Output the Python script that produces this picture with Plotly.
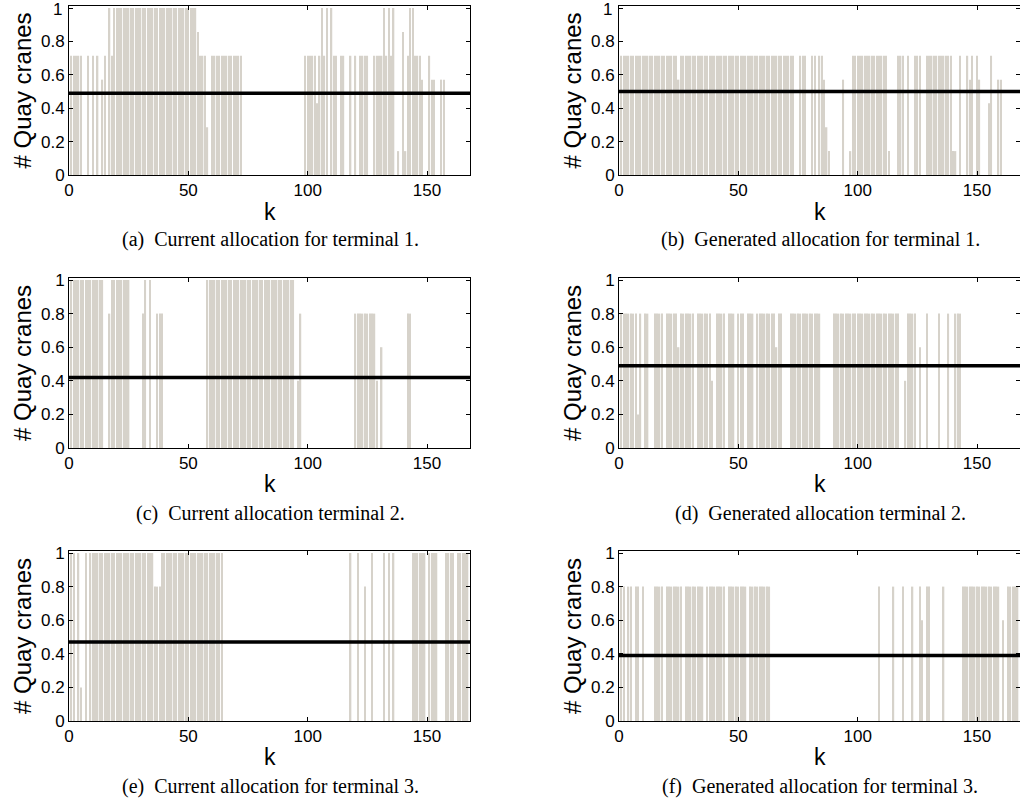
import plotly.graph_objects as go
from plotly.subplots import make_subplots

# ---------------- data (k = 1..168) ----------------
k_max = 168
x_ticks = [0, 50, 100, 150]
y_ticks = [0, 0.2, 0.4, 0.6, 0.8, 1.0]
y_tick_text = ["0", "0.2", "0.4", "0.6", "0.8", "1"]

# (a) current allocation terminal 1
current_t1 = [
    0.714, 0.714, 0.714, 0.714, 0.714, 0, 0, 0.714, 0, 0.714, 0, 0.714, 0, 0.571,
    0.714, 0, 1, 0.714, 1, 1, 1, 1, 1, 1, 1, 1, 1, 1,
    1, 1, 1, 1, 1, 1, 1, 1, 1, 1, 1, 1, 1, 1,
    1, 1, 1, 1, 1, 1, 1, 1, 1, 1, 1, 0.857, 0.714, 0.714,
    0.714, 0.286, 0, 0.714, 0.714, 0.714, 0.714, 0.714, 0.714, 0.714, 0.714, 0.714, 0.714, 0.714,
    0.714, 0.714, 0, 0, 0, 0, 0, 0, 0, 0, 0, 0, 0, 0,
    0, 0, 0, 0, 0, 0, 0, 0, 0, 0, 0, 0, 0, 0,
    0.714, 0.714, 0.714, 0.714, 0.714, 0.429, 0.714, 1, 0.714, 1, 0, 1, 0.714, 0.714,
    0, 0.714, 0.714, 0, 0, 0.714, 0, 0.714, 0, 0.714, 0.714, 0.714, 0.714, 0,
    0, 0.714, 0.714, 0.714, 0.714, 1, 0.714, 1, 0.714, 1, 0, 0.143, 0, 0.857,
    0.143, 0.714, 1, 1, 0.714, 0.714, 0.714, 0.571, 0, 0, 0.714, 0.571, 0.571, 0,
    0, 0.571, 0.571, 0, 0, 0, 0, 0, 0, 0, 0, 0, 0, 0,
]

# (b) generated allocation terminal 1
generated_t1 = [
    0.714, 0.714, 0.714, 0.714, 0.714, 0.714, 0.714, 0.714, 0.714, 0.714, 0.714, 0.714, 0.714, 0.714,
    0.714, 0.714, 0.714, 0.714, 0.714, 0.714, 0.714, 0.714, 0.714, 0.714, 0.571, 0.714, 0.714, 0.714,
    0.714, 0.714, 0.714, 0.714, 0.714, 0.714, 0.714, 0.714, 0.714, 0.714, 0.714, 0.714, 0.714, 0.714,
    0.714, 0.714, 0.714, 0.714, 0.714, 0.714, 0.714, 0.714, 0.714, 0.714, 0.714, 0.714, 0.714, 0.714,
    0.714, 0.714, 0.714, 0.714, 0.714, 0.714, 0.714, 0.714, 0.714, 0.714, 0.714, 0.714, 0.714, 0.714,
    0.714, 0.714, 0.714, 0, 0, 0.714, 0.714, 0.714, 0, 0, 0.714, 0.714, 0, 0.714,
    0.714, 0.571, 0.286, 0.143, 0, 0, 0, 0, 0, 0.571, 0, 0, 0.143, 0.714,
    0.714, 0.714, 0.714, 0.714, 0.714, 0.714, 0.714, 0.714, 0.714, 0.714, 0.714, 0.714, 0.714, 0.714,
    0.143, 0, 0, 0, 0.714, 0.714, 0.714, 0, 0.714, 0, 0, 0.714, 0.714, 0.714,
    0, 0, 0.714, 0.714, 0.714, 0.714, 0.714, 0.714, 0.714, 0.714, 0.714, 0.714, 0.714, 0.143,
    0.143, 0, 0.714, 0, 0, 0.714, 0.571, 0.714, 0, 0.714, 0.571, 0, 0, 0,
    0.429, 0.714, 0, 0, 0.571, 0.571, 0, 0, 0, 0, 0, 0, 0, 0,
]

# (c) current allocation terminal 2
current_t2 = [
    1, 1, 1, 1, 1, 1, 1, 1, 1, 1, 1, 1, 1, 1,
    0, 0, 0.8, 1, 1, 1, 1, 1, 1, 1, 1, 0, 0, 0,
    0, 0, 0.8, 1, 0, 1, 0, 0, 0.8, 0.8, 0.8, 0, 0, 0,
    0, 0, 0, 0, 0, 0, 0, 0, 0, 0, 0, 0, 0, 0,
    0, 1, 1, 1, 1, 1, 1, 1, 1, 1, 1, 1, 1, 1,
    1, 1, 1, 1, 1, 1, 1, 1, 1, 1, 1, 1, 1, 1,
    1, 1, 1, 1, 1, 1, 1, 1, 1, 1, 0, 0.4, 0.8, 0,
    0, 0, 0, 0, 0, 0, 0, 0, 0, 0, 0, 0, 0, 0,
    0, 0, 0, 0, 0, 0, 0, 0.8, 0.8, 0.8, 0.8, 0.8, 0.8, 0.8,
    0.8, 0.8, 0.4, 0, 0.6, 0, 0, 0, 0, 0, 0, 0, 0, 0,
    0, 0.8, 0.8, 0, 0, 0, 0, 0, 0, 0, 0, 0, 0, 0,
    0, 0, 0, 0, 0, 0, 0, 0, 0, 0, 0, 0, 0, 0,
]

# (d) generated allocation terminal 2
generated_t2 = [
    0.8, 0.8, 0.8, 0.8, 0.8, 0.8, 0.8, 0.2, 0.8, 0, 0.8, 0.8, 0, 0,
    0.8, 0.8, 0.8, 0.8, 0, 0.8, 0.8, 0.8, 0.8, 0.8, 0.6, 0.8, 0.8, 0.8,
    0.8, 0.8, 0.8, 0, 0.8, 0.8, 0.8, 0.8, 0.8, 0.8, 0.4, 0, 0.8, 0.8,
    0.8, 0.8, 0, 0.8, 0.8, 0.8, 0, 0.8, 0.8, 0.8, 0, 0.8, 0.8, 0.8,
    0, 0.8, 0.8, 0.8, 0.8, 0.8, 0.8, 0.8, 0.8, 0.6, 0.8, 0.8, 0, 0,
    0, 0.8, 0.8, 0.8, 0.8, 0.8, 0.8, 0.8, 0.8, 0.8, 0.8, 0.8, 0.8, 0.8,
    0, 0, 0, 0, 0, 0.8, 0.8, 0.8, 0.8, 0.8, 0.8, 0.8, 0.8, 0.8,
    0.8, 0.8, 0.8, 0.8, 0.8, 0.8, 0.8, 0.8, 0.8, 0.8, 0.8, 0.8, 0.8, 0.8,
    0.8, 0.8, 0.8, 0.8, 0.8, 0, 0, 0.4, 0.8, 0.8, 0.8, 0.8, 0, 0.6,
    0, 0, 0.8, 0, 0, 0, 0, 0.8, 0, 0, 0, 0.8, 0, 0,
    0.8, 0.8, 0.8, 0, 0, 0, 0, 0, 0, 0, 0, 0, 0, 0,
    0, 0, 0, 0, 0, 0, 0, 0, 0, 0, 0, 0, 0, 0,
]

# (e) current allocation terminal 3
current_t3 = [
    1, 1, 0, 1, 0.2, 0, 1, 0, 1, 1, 1, 1, 1, 1,
    1, 1, 1, 1, 1, 1, 1, 1, 1, 1, 1, 1, 1, 1,
    1, 1, 1, 1, 1, 1, 1, 0.8, 0.8, 0.8, 1, 1, 1, 1,
    1, 1, 1, 1, 1, 1, 1, 1, 1, 1, 1, 1, 1, 1,
    1, 1, 1, 1, 1, 1, 1, 1, 0, 0, 0, 0, 0, 0,
    0, 0, 0, 0, 0, 0, 0, 0, 0, 0, 0, 0, 0, 0,
    0, 0, 0, 0, 0, 0, 0, 0, 0, 0, 0, 0, 0, 0,
    0, 0, 0, 0, 0, 0, 0, 0, 0, 0, 0, 0, 0, 0,
    0, 0, 0, 0, 0, 1, 0, 0, 1, 0, 0, 0.8, 0, 0,
    1, 0, 0, 0, 0, 1, 0, 1, 0, 1, 0, 0, 0, 0,
    0, 0, 0, 1, 1, 1, 1, 1, 1, 0, 1, 1, 1, 1,
    0, 0, 0, 1, 1, 1, 1, 0, 1, 1, 1, 1, 1, 0,
]

# (f) generated allocation terminal 3
generated_t3 = [
    0.8, 0.8, 0, 0.8, 0.8, 0, 0.8, 0.8, 0, 0.8, 0, 0, 0, 0,
    0.8, 0.8, 0.8, 0.8, 0, 0.8, 0.8, 0.8, 0.8, 0.8, 0.8, 0.8, 0, 0.8,
    0.8, 0.8, 0.8, 0.8, 0.8, 0.8, 0.8, 0, 0.8, 0.8, 0.8, 0.8, 0.8, 0.8,
    0.8, 0.8, 0, 0.8, 0.8, 0.8, 0.8, 0.8, 0.8, 0.8, 0.8, 0, 0.8, 0.8,
    0.8, 0.8, 0.8, 0.8, 0.8, 0.8, 0.8, 0, 0, 0, 0, 0, 0, 0,
    0, 0, 0, 0, 0, 0, 0, 0, 0, 0, 0, 0, 0, 0,
    0, 0, 0, 0, 0, 0, 0, 0, 0, 0, 0, 0, 0, 0,
    0, 0, 0, 0, 0, 0, 0, 0, 0, 0, 0.8, 0, 0, 0,
    0, 0, 0.8, 0, 0, 0, 0.8, 0, 0, 0, 0.8, 0, 0, 0.8,
    0.6, 0, 0.8, 0.8, 0, 0, 0, 0, 0, 0.8, 0, 0, 0, 0,
    0, 0, 0, 0.8, 0.8, 0.8, 0.8, 0.8, 0.8, 0.8, 0.8, 0.8, 0.8, 0.8,
    0.8, 0.8, 0.8, 0.8, 0.8, 0, 0.6, 0, 0.8, 0.8, 0.8, 0.8, 0.8, 0,
]

# mean lines
mean_values = [0.49, 0.50, 0.42, 0.49, 0.47, 0.39]

series = [current_t1, generated_t1, current_t2, generated_t2, current_t3, generated_t3]
captions = [
    "(a)  Current allocation for terminal 1.",
    "(b)  Generated allocation for terminal 1.",
    "(c)  Current allocation terminal 2.",
    "(d)  Generated allocation terminal 2.",
    "(e)  Current allocation for terminal 3.",
    "(f)  Generated allocation for terminal 3.",
]

# ---------------- layout geometry (pixels) ----------------
W, H = 1020, 809
col_px = [(69, 470), (619, 1020)]
row_px = [(6, 175), (278, 448), (551, 721)]   # (top, bottom)
k_label_y = [212, 484, 757]
caption_y = [240, 513, 786]
col_center = [270, 820]
ytitle_x = [22, 572]

bar_color = "rgb(214,210,202)"
sans = "Liberation Sans, Arial, sans-serif"
serif = "Liberation Serif, Times New Roman, serif"
tick_font = dict(family=sans, size=17, color="black")

fig = make_subplots(rows=3, cols=2)

for i, vals in enumerate(series):
    r, c = i // 2 + 1, i % 2 + 1
    ks = list(range(1, len(vals) + 1))
    fig.add_trace(
        go.Bar(x=ks, y=vals, width=0.58, marker=dict(color=bar_color, line=dict(width=0)),
               showlegend=False),
        row=r, col=c,
    )
    fig.add_hline(y=mean_values[i], row=r, col=c, line=dict(color="black", width=3.5))

annotations = []
for i in range(6):
    r, c = i // 2, i % 2
    idx = i + 1
    xa = "xaxis" if idx == 1 else f"xaxis{idx}"
    ya = "yaxis" if idx == 1 else f"yaxis{idx}"
    x0, x1 = col_px[c]
    top, bot = row_px[r]
    labels = list(y_tick_text)
    if r == 0:
        # top-row "1" label sits at the page edge; draw it as an annotation kept inside the page
        labels[-1] = ""
        annotations.append(dict(
            text=y_tick_text[-1], x=(x0 - 5) / W, y=1.0, xref="paper", yref="paper",
            showarrow=False, xanchor="right", yanchor="top", yshift=2,
            font=tick_font))
    fig.layout[xa].update(
        domain=[x0 / W, x1 / W], range=[0, k_max], tickvals=x_ticks, automargin=False,
        showline=True, mirror="ticks", linecolor="black", linewidth=1,
        ticks="inside", ticklen=4, tickcolor="black", showgrid=False, zeroline=False,
        tickfont=tick_font,
    )
    fig.layout[ya].update(
        domain=[1 - bot / H, 1 - top / H], range=[0, 1.012], tickvals=y_ticks,
        ticktext=labels, automargin=False,
        showline=True, mirror="ticks", linecolor="black", linewidth=1,
        ticks="inside", ticklen=4, tickcolor="black", showgrid=False, zeroline=False,
        tickfont=tick_font,
    )

for i in range(6):
    r, c = i // 2, i % 2
    annotations.append(dict(
        text="k", x=col_center[c] / W, y=1 - k_label_y[r] / H, xref="paper", yref="paper",
        showarrow=False, xanchor="center", yanchor="middle",
        font=dict(family=sans, size=23, color="black")))
    annotations.append(dict(
        text="# Quay cranes", x=ytitle_x[c] / W,
        y=1 - (row_px[r][0] + row_px[r][1]) / 2 / H, xref="paper", yref="paper",
        showarrow=False, textangle=-90, xanchor="center", yanchor="middle",
        font=dict(family=sans, size=24, color="black")))
    annotations.append(dict(
        text=captions[i], x=col_center[c] / W, y=1 - caption_y[r] / H,
        xref="paper", yref="paper", showarrow=False, xanchor="center", yanchor="middle",
        font=dict(family=serif, size=20, color="black")))

fig.update_layout(
    width=W, height=H, margin=dict(l=0, r=0, t=0, b=0),
    paper_bgcolor="white", plot_bgcolor="white",
    annotations=annotations, barmode="overlay", showlegend=False,
)

fig.write_html("out.html", config={"displayModeBar": False},
               post_script="document.body.style.margin='0px';")
